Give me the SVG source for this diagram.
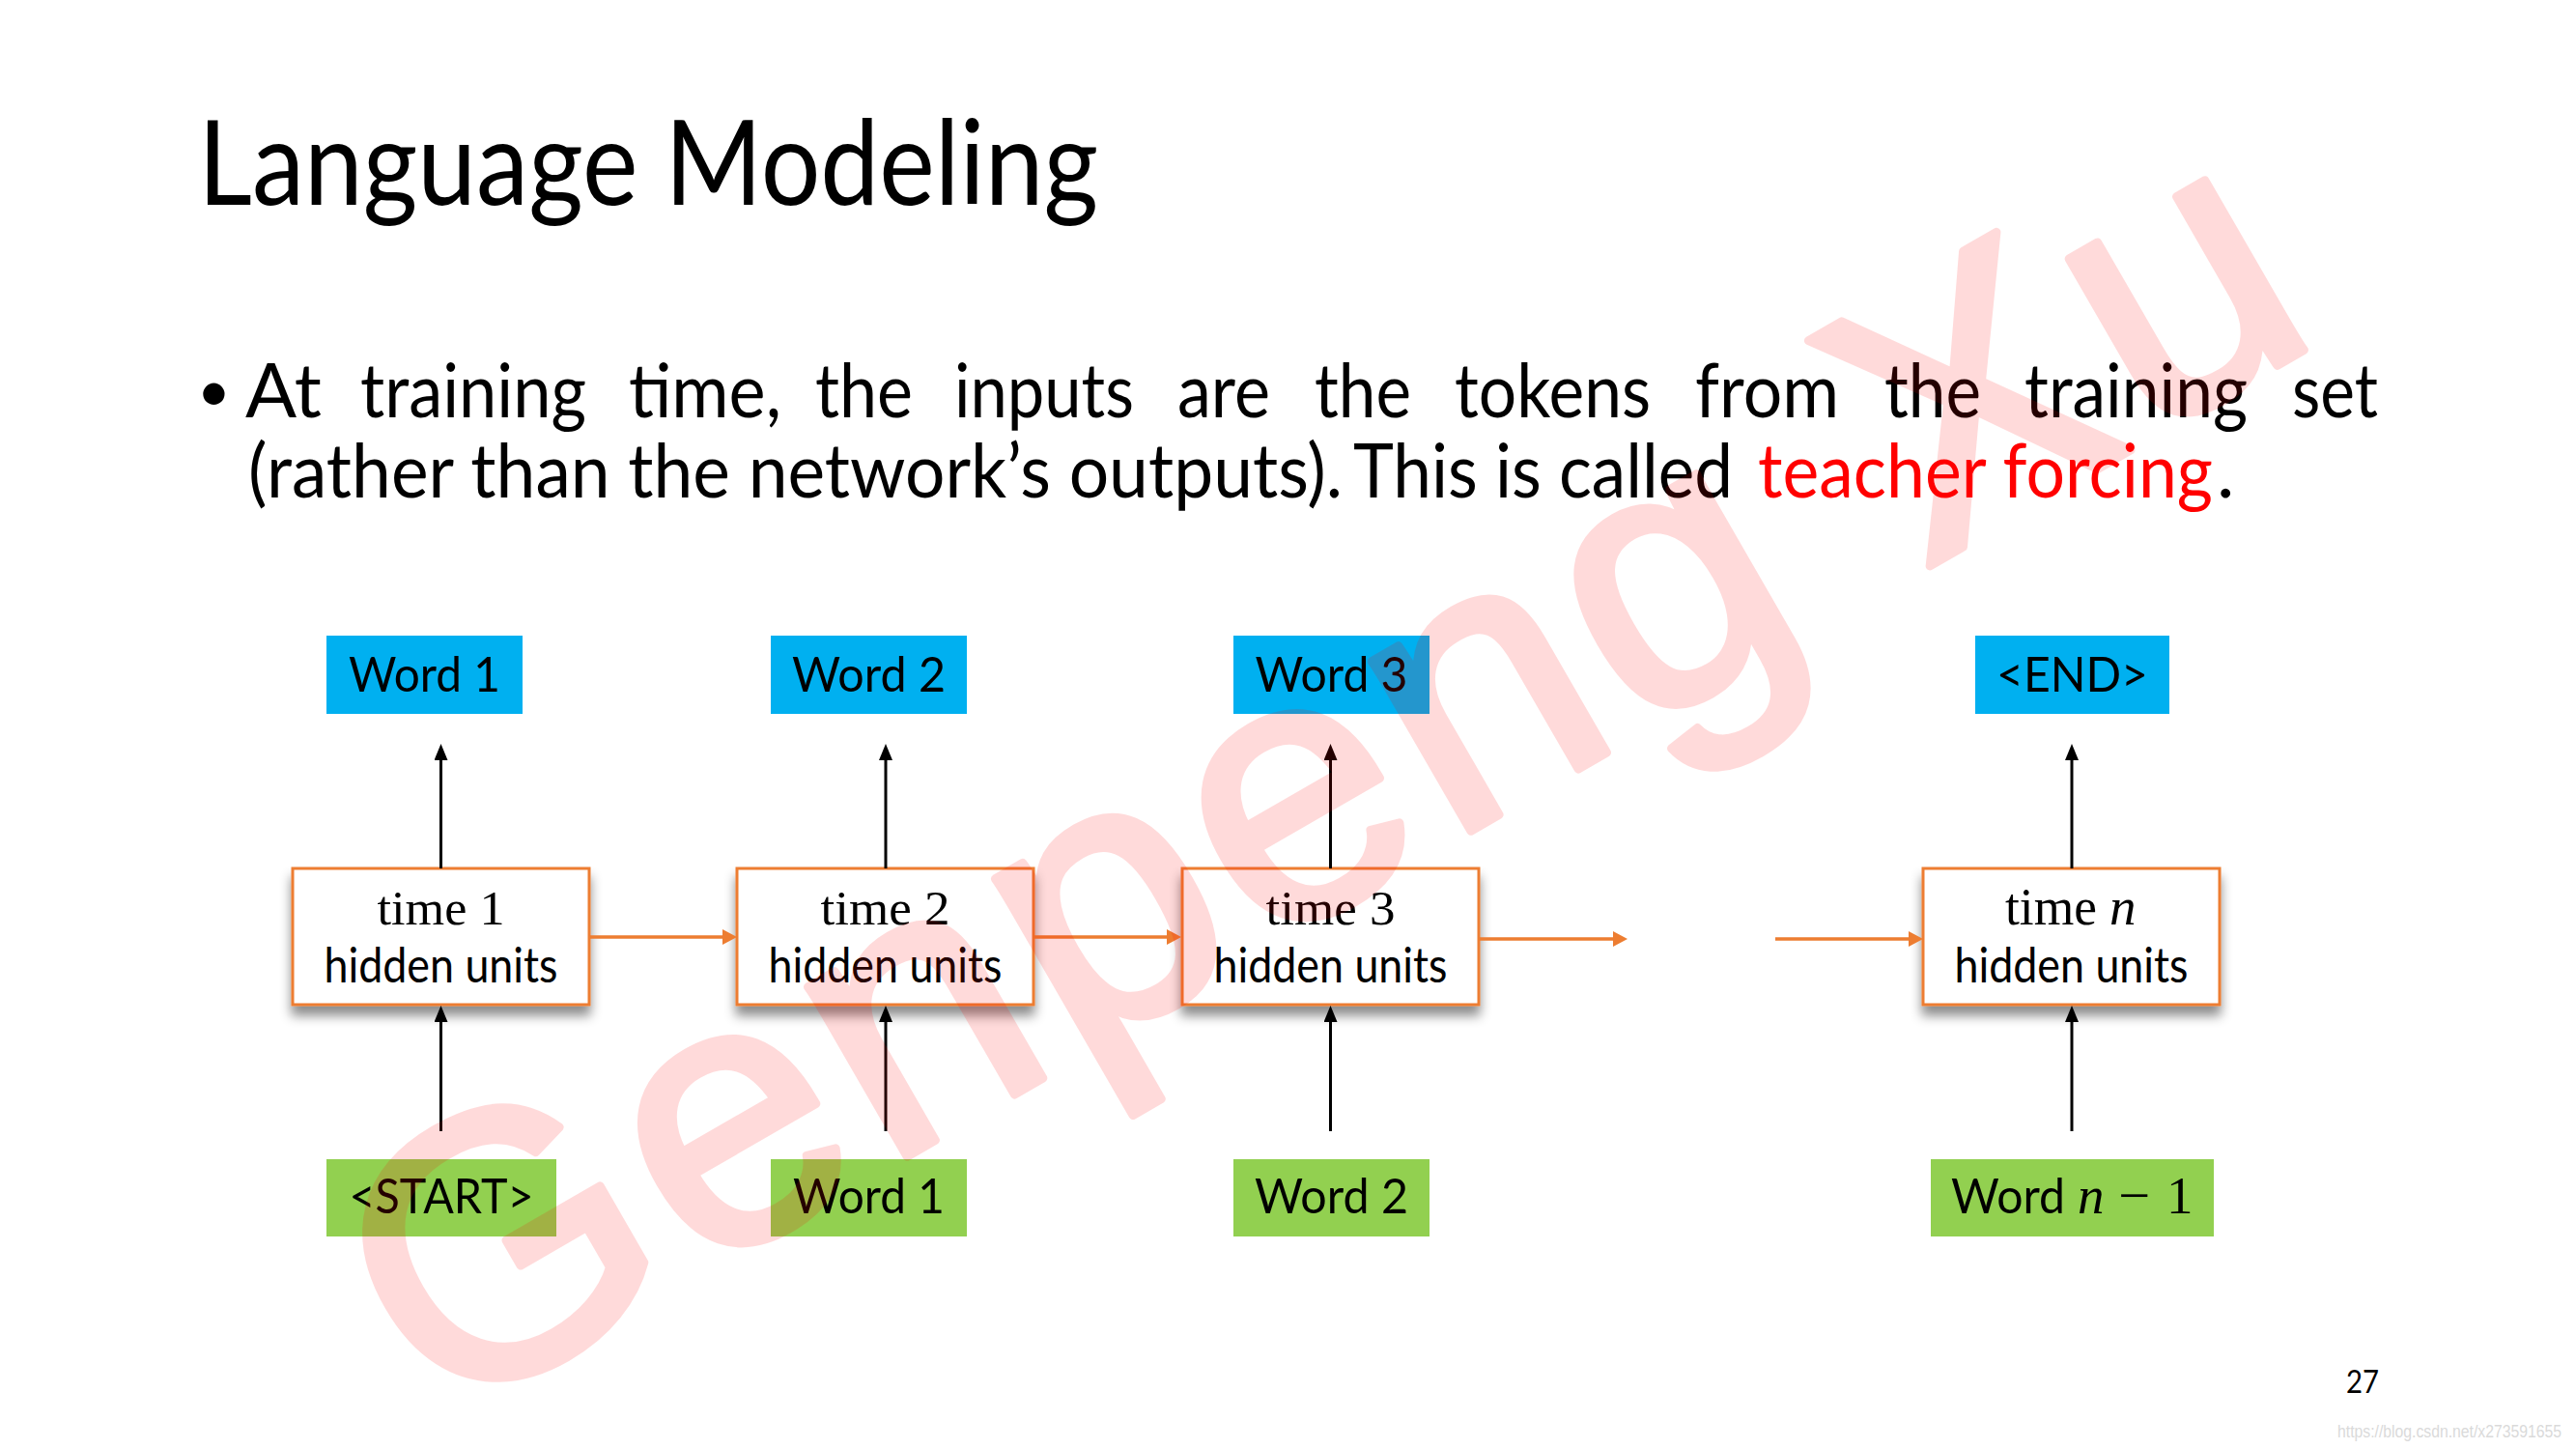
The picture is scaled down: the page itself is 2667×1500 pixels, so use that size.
<svg xmlns="http://www.w3.org/2000/svg" width="2667" height="1500" viewBox="0 0 2667 1500">
  <style>
    .gill { font-family: "Lato", "Liberation Sans", sans-serif; fill: #000; }
    .math { font-family: "Liberation Serif", "DejaVu Serif", serif; fill: #000; }
    .lbl { font-size: 50px; text-anchor: middle; }
    .body { font-size: 78px; }
    .out { fill: #00B0F0; }
    .inp { fill: #92D050; }
    .hid { fill: #FFFFFF; stroke: #ED7D31; stroke-width: 3; }
    .blk { stroke: #000; stroke-width: 3; fill: none; marker-end: url(#ahB); }
    .org { stroke: #ED7D31; stroke-width: 3.5; fill: none; marker-end: url(#ahO); }
    .wm { font-family: "Liberation Sans", "Arial", sans-serif; font-weight: normal; font-size: 385px; fill: #FF0000; stroke: #FF0000; stroke-width: 9; stroke-linejoin: round; }
  </style>
  <defs>
    <marker id="ahB" markerUnits="userSpaceOnUse" viewBox="0 0 17 14" refX="7" refY="7" markerWidth="17" markerHeight="14" orient="auto">
      <path d="M0,0 L17,7 L0,14 z" fill="#000"/>
    </marker>
    <marker id="ahO" markerUnits="userSpaceOnUse" viewBox="0 0 15 16" refX="5" refY="8" markerWidth="15" markerHeight="16" orient="auto">
      <path d="M0,0 L15,8 L0,16 z" fill="#ED7D31"/>
    </marker>
    <filter id="shadow" x="-10%" y="-10%" width="120%" height="150%">
      <feDropShadow dx="0" dy="10" stdDeviation="6" flood-color="#000" flood-opacity="0.45"/>
    </filter>
  </defs>

  <rect x="0" y="0" width="2667" height="1500" fill="#FFFFFF"/>

  <!-- Title and body text -->
  <g id="title">
    <text class="gill" x="205" y="212" font-size="122" textLength="932" lengthAdjust="spacingAndGlyphs">Language Modeling</text>
  </g>
  <g id="bullet">
    <text class="gill" x="204" y="426" font-size="60">•</text>
    <text class="gill body" y="432"><tspan x="254" textLength="79" lengthAdjust="spacingAndGlyphs">At</tspan><tspan x="373" textLength="234" lengthAdjust="spacingAndGlyphs">training</tspan><tspan x="651" textLength="158" lengthAdjust="spacingAndGlyphs">time,</tspan><tspan x="844" textLength="101" lengthAdjust="spacingAndGlyphs">the</tspan><tspan x="988" textLength="186" lengthAdjust="spacingAndGlyphs">inputs</tspan><tspan x="1219" textLength="96" lengthAdjust="spacingAndGlyphs">are</tspan><tspan x="1361" textLength="100" lengthAdjust="spacingAndGlyphs">the</tspan><tspan x="1506" textLength="203" lengthAdjust="spacingAndGlyphs">tokens</tspan><tspan x="1755" textLength="149" lengthAdjust="spacingAndGlyphs">from</tspan><tspan x="1951" textLength="100" lengthAdjust="spacingAndGlyphs">the</tspan><tspan x="2096" textLength="231" lengthAdjust="spacingAndGlyphs">training</tspan><tspan x="2373" textLength="89" lengthAdjust="spacingAndGlyphs">set</tspan></text>
    <text class="gill body" y="515"><tspan x="257" textLength="1133" lengthAdjust="spacingAndGlyphs">(rather than the network’s outputs).</tspan><tspan x="1401" textLength="393" lengthAdjust="spacingAndGlyphs">This is called</tspan><tspan x="1820" textLength="471" lengthAdjust="spacingAndGlyphs" fill="#FF0000">teacher forcing</tspan><tspan x="2295">.</tspan></text>
  </g>

  <!-- Output nodes -->
  <g id="out1"><rect class="out" x="338" y="658" width="203" height="81"/><text class="gill lbl" x="439.5" y="716" textLength="157" lengthAdjust="spacingAndGlyphs">Word 1</text></g>
  <g id="out2"><rect class="out" x="798" y="658" width="203" height="81"/><text class="gill lbl" x="899.5" y="716" textLength="159" lengthAdjust="spacingAndGlyphs">Word 2</text></g>
  <g id="out3"><rect class="out" x="1277" y="658" width="203" height="81"/><text class="gill lbl" x="1378.5" y="716" textLength="158" lengthAdjust="spacingAndGlyphs">Word 3</text></g>
  <g id="outN"><rect class="out" x="2045" y="658" width="201" height="81"/><text class="gill lbl" x="2145.5" y="716" textLength="157" lengthAdjust="spacingAndGlyphs">&lt;END&gt;</text></g>

  <!-- Hidden nodes -->
  <g id="hid1">
    <rect class="hid" x="303" y="899" width="307" height="141" filter="url(#shadow)"/>
    <text class="math lbl" x="456.5" y="957" font-size="55" textLength="132" lengthAdjust="spacingAndGlyphs">time 1</text>
    <text class="gill lbl" x="456.5" y="1017" textLength="242" lengthAdjust="spacingAndGlyphs">hidden units</text>
  </g>
  <g id="hid2">
    <rect class="hid" x="763" y="899" width="307" height="141" filter="url(#shadow)"/>
    <text class="math lbl" x="916.5" y="957" font-size="55" textLength="134" lengthAdjust="spacingAndGlyphs">time 2</text>
    <text class="gill lbl" x="916.5" y="1017" textLength="242" lengthAdjust="spacingAndGlyphs">hidden units</text>
  </g>
  <g id="hid3">
    <rect class="hid" x="1224" y="899" width="307" height="141" filter="url(#shadow)"/>
    <text class="math lbl" x="1377.5" y="957" font-size="55" textLength="134" lengthAdjust="spacingAndGlyphs">time 3</text>
    <text class="gill lbl" x="1377.5" y="1017" textLength="242" lengthAdjust="spacingAndGlyphs">hidden units</text>
  </g>
  <g id="hidN">
    <rect class="hid" x="1991" y="899" width="307" height="141" filter="url(#shadow)"/>
    <text class="math" y="957" font-size="55"><tspan x="2076" textLength="95" lengthAdjust="spacingAndGlyphs">time</tspan><tspan x="2184" font-style="italic">n</tspan></text>
    <text class="gill lbl" x="2144.5" y="1017" textLength="242" lengthAdjust="spacingAndGlyphs">hidden units</text>
  </g>

  <!-- Input nodes -->
  <g id="in1"><rect class="inp" x="338" y="1200" width="238" height="80"/><text class="gill lbl" x="457" y="1256" textLength="191" lengthAdjust="spacingAndGlyphs">&lt;START&gt;</text></g>
  <g id="in2"><rect class="inp" x="798" y="1200" width="203" height="80"/><text class="gill lbl" x="899.5" y="1256" textLength="157" lengthAdjust="spacingAndGlyphs">Word 1</text></g>
  <g id="in3"><rect class="inp" x="1277" y="1200" width="203" height="80"/><text class="gill lbl" x="1378.5" y="1256" textLength="159" lengthAdjust="spacingAndGlyphs">Word 2</text></g>
  <g id="inN">
    <rect class="inp" x="1999" y="1200" width="293" height="80"/>
    <text y="1256" font-size="50"><tspan class="gill" x="2020" textLength="118" lengthAdjust="spacingAndGlyphs">Word</tspan><tspan class="math" x="2151" font-size="55" font-style="italic">n</tspan><tspan class="math" x="2193" font-size="55" textLength="33" lengthAdjust="spacingAndGlyphs">−</tspan><tspan class="math" x="2243" font-size="55">1</tspan></text>
  </g>

  <!-- Connectors -->
  <g id="connectors">
    <line class="blk" x1="456.5" y1="899" x2="456.5" y2="780"/>
    <line class="blk" x1="917" y1="899" x2="917" y2="780"/>
    <line class="blk" x1="1377.5" y1="899" x2="1377.5" y2="780"/>
    <line class="blk" x1="2145" y1="899" x2="2145" y2="780"/>
    <line class="blk" x1="456.5" y1="1171" x2="456.5" y2="1051"/>
    <line class="blk" x1="917" y1="1171" x2="917" y2="1051"/>
    <line class="blk" x1="1377.5" y1="1171" x2="1377.5" y2="1051"/>
    <line class="blk" x1="2145" y1="1171" x2="2145" y2="1051"/>
    <line class="org" x1="610" y1="970" x2="753" y2="970"/>
    <line class="org" x1="1070" y1="970" x2="1213" y2="970"/>
    <line class="org" x1="1531" y1="972" x2="1675" y2="972"/>
    <line class="org" x1="1838" y1="972" x2="1981" y2="972"/>
  </g>

  <!-- Page number and source -->
  <text class="gill" x="2429" y="1442" font-size="32" textLength="34" lengthAdjust="spacingAndGlyphs">27</text>
  <text x="2420" y="1488" font-family="Liberation Sans, sans-serif" font-size="18" fill="#DADADA" textLength="232" lengthAdjust="spacingAndGlyphs">https://blog.csdn.net/x273591655</text>

  <!-- Watermark -->
  <g id="watermark" opacity="0.14">
    <text class="wm" transform="translate(453,1478) rotate(-30)" textLength="2257" lengthAdjust="spacing">Genpeng Xu</text>
  </g>
</svg>
